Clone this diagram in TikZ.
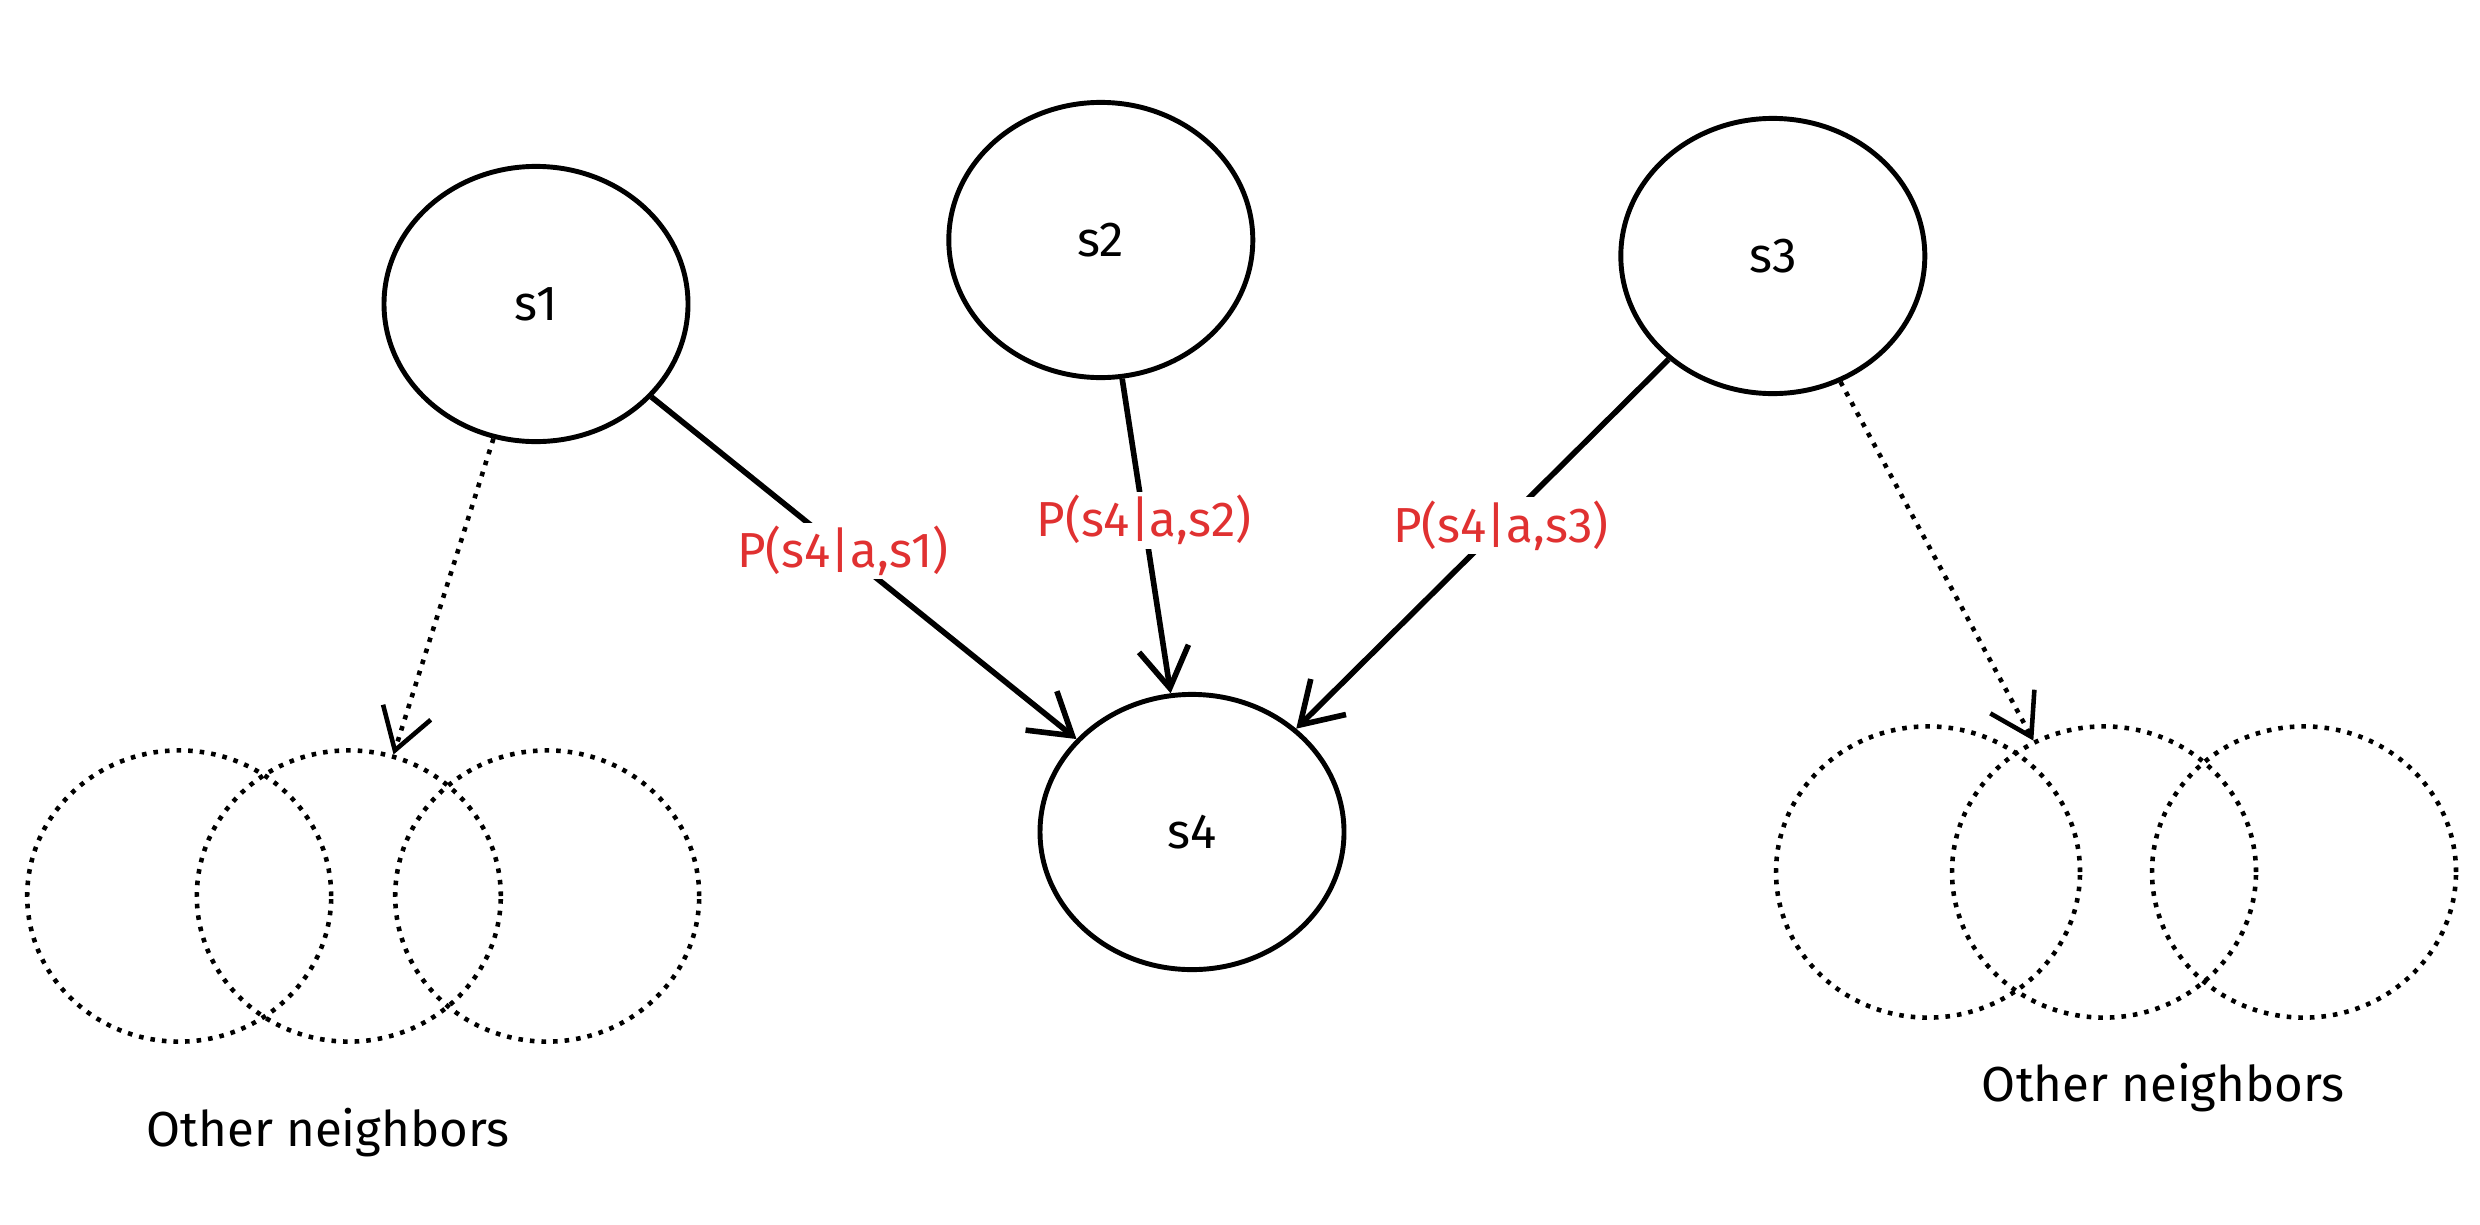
\documentclass[tikz,border=0pt]{standalone}
\usepackage{fontspec}
\setmainfont{Fira Sans}
\usetikzlibrary{shapes.geometric,arrows.meta}
\definecolor{labred}{RGB}{224,49,49}
\tikzset{
  state/.style={ellipse, draw, line width=1.4pt, minimum width=190*0.016cm, minimum height=172*0.016cm, font=\fontsize{14}{16}\selectfont},
  ghost/.style={ellipse, draw, dotted, line width=1.3pt, minimum width=190*0.016cm, minimum height=182*0.016cm},
  trans/.style={line width=1.6pt, -{Straight Barb[length=4mm,width=5mm]}},
  other/.style={line width=1.3pt, dotted, -{Straight Barb[length=4mm,width=5mm]}},
  prob/.style={text=labred, font=\fontsize{14}{16}\selectfont, fill=white, inner sep=1pt}
}
\begin{document}
\begin{tikzpicture}[x=0.016cm, y=-0.016cm]
\useasboundingbox (0,0) rectangle (1550,765);

\node[state] (s1) at (335,190) {s1};
\node[state] (s2) at (688,150) {s2};
\node[state] (s3) at (1108,160) {s3};
\node[state] (s4) at (745,520) {s4};

% other neighbors, left
\node[ghost] (l1) at (112,560) {};
\node[ghost] (l2) at (218,560) {};
\node[ghost] (l3) at (342,560) {};
\node[font=\fontsize{14}{16}\selectfont] (ol) at (205,708) {Other neighbors};

% other neighbors, right
\node[ghost] (r1) at (1205,545) {};
\node[ghost] (r2) at (1315,545) {};
\node[ghost] (r3) at (1440,545) {};
\node[font=\fontsize{14}{16}\selectfont] (or) at (1352,680) {Other neighbors};

\draw[trans] (s1) -- node[prob, pos=0.45] {P(s4|a,s1)} (s4);
\draw[trans] (s2) -- node[prob, pos=0.45] {P(s4|a,s2)} (s4);
\draw[trans] (s3) -- node[prob, pos=0.45] {P(s4|a,s3)} (s4);

\draw[other] (s1) -- (l2);
\draw[other] (s3) -- (r2);
\end{tikzpicture}
\end{document}
